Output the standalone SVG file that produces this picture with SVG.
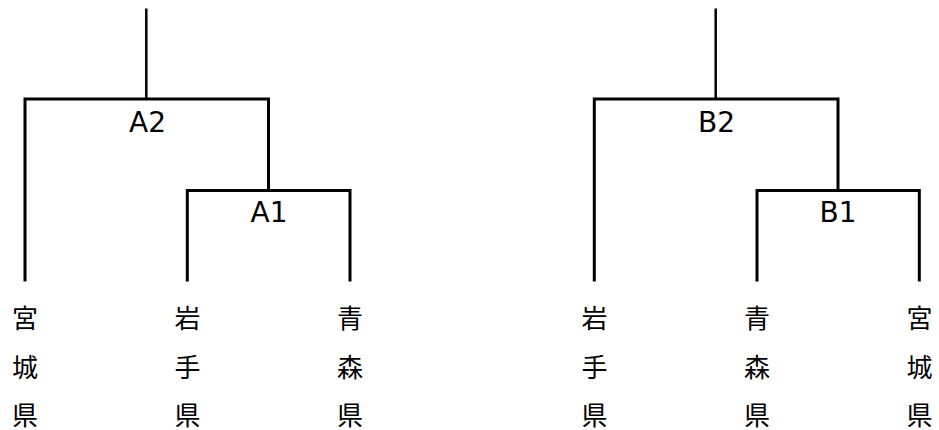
<svg xmlns="http://www.w3.org/2000/svg" width="939" height="430" viewBox="0 0 939 430">
<style>
.ln{fill:none;stroke:#000;stroke-width:3;stroke-linejoin:miter;stroke-linecap:butt}
.stem{fill:none;stroke:#000;stroke-width:2.5}
.lbl{font-family:"DejaVu Sans","Verdana",sans-serif;font-size:28px;fill:#000;text-anchor:middle}
.leaf{font-family:"Noto Sans CJK JP","Noto Sans CJK SC",sans-serif;font-size:26px;fill:#000;text-anchor:middle}
</style>
<rect width="939" height="430" fill="#fff"/>
<g id="connectors">
  <line class="stem" x1="146.3" y1="8.5" x2="146.3" y2="99"/>
  <polyline class="ln" points="25,281.5 25,99 268.5,99 268.5,190.5"/>
  <polyline class="ln" points="187.3,281.5 187.3,190.5 350,190.5 350,281.5"/>
  <line class="stem" x1="715.7" y1="8.5" x2="715.7" y2="99"/>
  <polyline class="ln" points="594.3,281.5 594.3,99 838,99 838,190.5"/>
  <polyline class="ln" points="757,281.5 757,190.5 919.3,190.5 919.3,281.5"/>
</g>
<g id="A2"><text class="lbl" x="147.5" y="131.5">A2</text></g>
<g id="A1"><text class="lbl" x="269" y="222">A1</text></g>
<g id="B2"><text class="lbl" x="716.5" y="131.5">B2</text></g>
<g id="B1"><text class="lbl" x="838" y="222">B1</text></g>
<g id="leafA-miyagi">
  <text class="leaf" x="25" y="328">宮</text><text class="leaf" x="25" y="377">城</text><text class="leaf" x="25" y="424.5">県</text>
</g>
<g id="leafA-iwate">
  <text class="leaf" x="187.5" y="328">岩</text><text class="leaf" x="187.5" y="377">手</text><text class="leaf" x="187.5" y="424.5">県</text>
</g>
<g id="leafA-aomori">
  <text class="leaf" x="350" y="328">青</text><text class="leaf" x="350" y="377">森</text><text class="leaf" x="350" y="424.5">県</text>
</g>
<g id="leafB-iwate">
  <text class="leaf" x="594.5" y="328">岩</text><text class="leaf" x="594.5" y="377">手</text><text class="leaf" x="594.5" y="424.5">県</text>
</g>
<g id="leafB-aomori">
  <text class="leaf" x="757" y="328">青</text><text class="leaf" x="757" y="377">森</text><text class="leaf" x="757" y="424.5">県</text>
</g>
<g id="leafB-miyagi">
  <text class="leaf" x="919.5" y="328">宮</text><text class="leaf" x="919.5" y="377">城</text><text class="leaf" x="919.5" y="424.5">県</text>
</g>
</svg>
